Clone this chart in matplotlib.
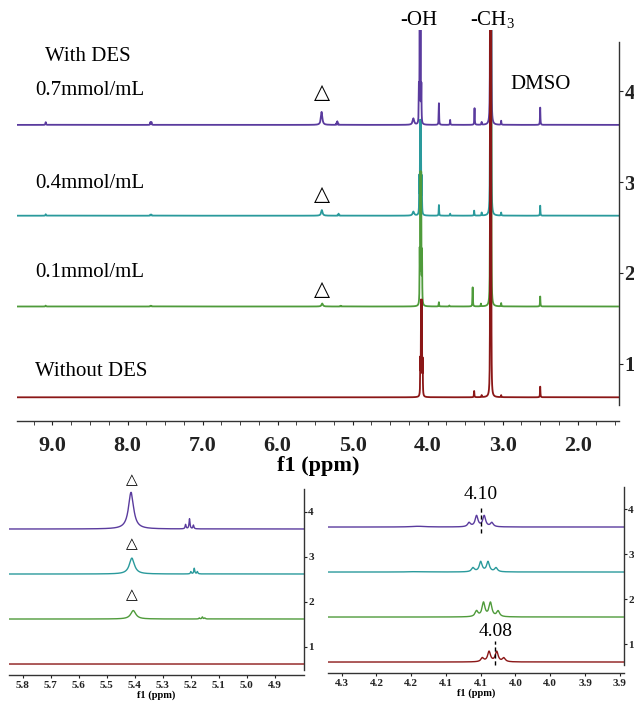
import numpy as np
import matplotlib
matplotlib.use('Agg')
import matplotlib.pyplot as plt
from matplotlib.ticker import FixedLocator, MultipleLocator, FormatStrFormatter

plt.rcParams['font.family'] = ['Liberation Serif', 'DejaVu Sans']
plt.rcParams['mathtext.fontset'] = 'custom'
plt.rcParams['mathtext.rm'] = 'Liberation Serif'

# ---------------- data ----------------
trace_labels = ['Without DES', '0.1mmol/mL', '0.4mmol/mL', '0.7mmol/mL']
trace_ticks = ['1', '2', '3', '4']
colors = ['#8b1717', '#4f9b3b', '#2a9a9c', '#5a3b9e']
zorders = [4, 3, 1, 2]

# peak tables: chemical shift (ppm), height (main-panel units), half width (ppm)
red_ppm = [4.0976, 4.088, 4.077, 4.0667, 3.38, 3.28, 3.166, 3.154, 3.02, 2.50]
red_h = [0.37, 1.00, 1.00, 0.37, 0.069, 0.022, 4.0, 4.0, 0.022, 0.117]
red_w = [0.0025, 0.0025, 0.0025, 0.0025, 0.003, 0.003, 0.0022, 0.0022, 0.003, 0.003]

green_ppm = [9.09, 7.695, 7.680, 5.405, 5.169, 5.158, 5.149, 4.106, 4.096, 4.086, 4.075,
             3.85, 3.71, 3.40, 3.29, 3.166, 3.154, 3.02, 2.50]
green_h = [0.010, 0.008, 0.008, 0.033, 0.004, 0.008, 0.004, 0.55, 1.37, 1.37, 0.55,
           0.047, 0.011, 0.21, 0.03, 4.0, 4.0, 0.036, 0.11]
green_w = [0.004, 0.003, 0.003, 0.011, 0.002, 0.002, 0.002, 0.0025, 0.0025, 0.0025, 0.0025,
           0.003, 0.003, 0.003, 0.003, 0.0022, 0.0022, 0.003, 0.003]

teal_ppm = [9.09, 7.695, 7.680, 5.41, 5.199, 5.187, 5.176, 4.19, 4.111, 4.100, 4.0895, 4.078,
            3.85, 3.70, 3.38, 3.28, 3.166, 3.154, 3.02, 2.50]
teal_h = [0.016, 0.012, 0.012, 0.062, 0.009, 0.022, 0.009, 0.044, 0.39, 0.98, 0.98, 0.39,
          0.117, 0.022, 0.055, 0.033, 4.0, 4.0, 0.033, 0.11]
teal_w = [0.004, 0.003, 0.003, 0.011, 0.002, 0.002, 0.002, 0.012, 0.0025, 0.0025, 0.0025, 0.0025,
          0.003, 0.003, 0.003, 0.003, 0.0022, 0.0022, 0.003, 0.003]

purple_ppm = [9.09, 7.695, 7.680, 5.413, 5.218, 5.204, 5.19, 4.19, 4.1167, 4.106, 4.095, 4.084,
              3.85, 3.70, 3.375, 3.28, 3.166, 3.154, 3.02, 2.50]
purple_h = [0.03, 0.03, 0.03, 0.143, 0.017, 0.039, 0.0144, 0.07, 0.40, 1.07, 1.07, 0.40,
            0.238, 0.055, 0.183, 0.03, 4.0, 4.0, 0.044, 0.19]
purple_w = [0.004, 0.003, 0.003, 0.011, 0.002, 0.002, 0.002, 0.012, 0.0025, 0.0025, 0.0025, 0.0025,
            0.003, 0.003, 0.003, 0.003, 0.0022, 0.0022, 0.003, 0.003]

traces = [(red_ppm, red_h, red_w), (green_ppm, green_h, green_w),
          (teal_ppm, teal_h, teal_w), (purple_ppm, purple_h, purple_w)]

main_ticks = [9.0, 8.0, 7.0, 6.0, 5.0, 4.0, 3.0, 2.0]
left_ticks = [5.8, 5.7, 5.6, 5.5, 5.4, 5.3, 5.2, 5.1, 5.0, 4.9]
right_ticks = [4.30, 4.25, 4.20, 4.15, 4.10, 4.05, 4.00, 3.95, 3.90]
right_tick_labels = ['4.3', '4.2', '4.2', '4.1', '4.1', '4.0', '4.0', '3.9', '3.9']
marked_shifts = [4.10, 4.08]
marked_labels = ['4.10', '4.08']
triangle_shift = 5.41


def spectrum(x, ppm, h, w):
    p = np.asarray(ppm)[None, :]
    hh = np.asarray(h)[None, :]
    ww = np.asarray(w)[None, :]
    return np.sum(hh / (1.0 + ((x[:, None] - p) / ww) ** 2), axis=1)


W, H = 634, 703
fig = plt.figure(figsize=(W / 100, H / 100), dpi=100)


def frac_axes(l, r, t, b):
    a = fig.add_axes([l / W, 1 - b / H, (r - l) / W, (b - t) / H])
    a.patch.set_visible(False)
    return a


def style_axes(a, spine_lo, spine_hi, ytick_pos, ysize, ylen, xlen):
    a.spines['left'].set_visible(False)
    a.spines['top'].set_visible(False)
    a.spines['right'].set_bounds(spine_lo, spine_hi)
    for s in ('right', 'bottom'):
        a.spines[s].set_color('#333333')
        a.spines[s].set_linewidth(1.0)
    a.yaxis.tick_right()
    a.set_yticks(ytick_pos)
    a.set_yticklabels(trace_ticks, fontweight='bold', fontsize=ysize)
    a.tick_params(axis='y', direction='out', length=ylen, pad=1, colors='#222222')
    a.tick_params(axis='x', which='both', direction='out', length=xlen, colors='#222222')


# ---------------- main panel ----------------
ax = frac_axes(16.7, 619, 30, 421)
x = np.arange(1.40, 9.55, 0.0005)
for i, (ppm, h, w) in enumerate(traces):
    ax.plot(x, spectrum(x, ppm, h, w) + i, color=colors[i], lw=1.3, zorder=zorders[i])
ax.set_xlim(9.477, 1.45)
ax.set_ylim(-0.261, 4.045)
style_axes(ax, -0.084, 3.916, [k + 0.37 for k in range(4)], 15, 3, 3)
ax.xaxis.set_major_locator(FixedLocator(main_ticks))
ax.xaxis.set_minor_locator(MultipleLocator(0.25))
ax.xaxis.set_major_formatter(FormatStrFormatter('%.1f'))
for t in ax.get_xticklabels():
    t.set_fontweight('bold')
    t.set_fontsize(16)
ax.tick_params(axis='x', pad=8)
ax.set_xlabel('f1 (ppm)', fontsize=16, fontweight='bold', labelpad=0)

ax.text(8.53, 3.748, 'With DES', ha='center', va='center', fontsize=15)
label_y = [0.282, 1.369, 2.36, 3.384]
for i, s in enumerate(trace_labels):
    ax.text(9.23, label_y[i], s, ha='left', va='center', fontsize=15)
for yv in [1.19, 2.24, 3.36]:
    ax.text(triangle_shift, yv, '\u25b3', ha='center', va='center', fontsize=15,
            family=['DejaVu Sans'])
ax.text(4.12, 4.15, '-OH', ha='center', va='center', fontsize=15)
ax.text(3.14, 4.15, r'-CH$_\mathrm{3}$', ha='center', va='center', fontsize=15)
ax.text(2.50, 3.44, 'DMSO', ha='center', va='center', fontsize=15)

# ---------------- left inset ----------------
scale_left = 5.7
ax2 = frac_axes(9.3, 304, 467, 675)
xl = np.arange(4.75, 5.90, 0.0002)
for i, (ppm, h, w) in enumerate(traces):
    ax2.plot(xl, scale_left * spectrum(xl, ppm, h, w) + i, color=colors[i], lw=1.0,
             zorder=zorders[i])
ax2.set_xlim(5.848, 4.795)
ax2.set_ylim(-0.244, 4.378)
style_axes(ax2, -0.127, 3.89, [k + 0.38 for k in range(4)], 8, 2, 2.5)
ax2.xaxis.set_major_locator(FixedLocator(left_ticks))
ax2.xaxis.set_major_formatter(FormatStrFormatter('%.1f'))
for t in ax2.get_xticklabels():
    t.set_fontweight('bold')
    t.set_fontsize(8)
ax2.tick_params(axis='x', pad=2)
ax2.set_xlabel('f1 (ppm)', fontsize=7.5, fontweight='bold', labelpad=0)
for yv in [1.53, 2.67, 4.09]:
    ax2.text(triangle_shift, yv, '\u25b3', ha='center', va='center', fontsize=11,
             family=['DejaVu Sans'])

# ---------------- right inset ----------------
scale_right = 0.226
ax3 = frac_axes(327.7, 624, 467, 673)
xr = np.arange(3.85, 4.36, 0.0001)
for i, (ppm, h, w) in enumerate(traces):
    ax3.plot(xr, scale_right * spectrum(xr, ppm, h, w) + i, color=colors[i], lw=1.0,
             zorder=zorders[i])
ax3.set_xlim(4.32, 3.894)
ax3.set_ylim(-0.244, 4.334)
style_axes(ax3, -0.067, 3.89, [k + 0.4 for k in range(4)], 8, 2, 2.5)
ax3.set_xticks(right_ticks)
ax3.set_xticklabels(right_tick_labels, fontweight='bold', fontsize=8)
ax3.tick_params(axis='x', pad=2)
ax3.set_xlabel('f1 (ppm)', fontsize=7.5, fontweight='bold', labelpad=0)

ax3.plot([marked_shifts[0]] * 2, [2.87, 3.44], color='black', lw=1.0, ls=(0, (3, 2)), zorder=6)
ax3.text(marked_shifts[0], 3.72, marked_labels[0], ha='center', va='center', fontsize=14)
ax3.plot([marked_shifts[1]] * 2, [-0.067, 0.47], color='black', lw=1.0, ls=(0, (3, 2)), zorder=6)
ax3.text(marked_shifts[1] - 0.001, 0.68, marked_labels[1], ha='center', va='center', fontsize=14)

fig.savefig('out.png', dpi=100)
